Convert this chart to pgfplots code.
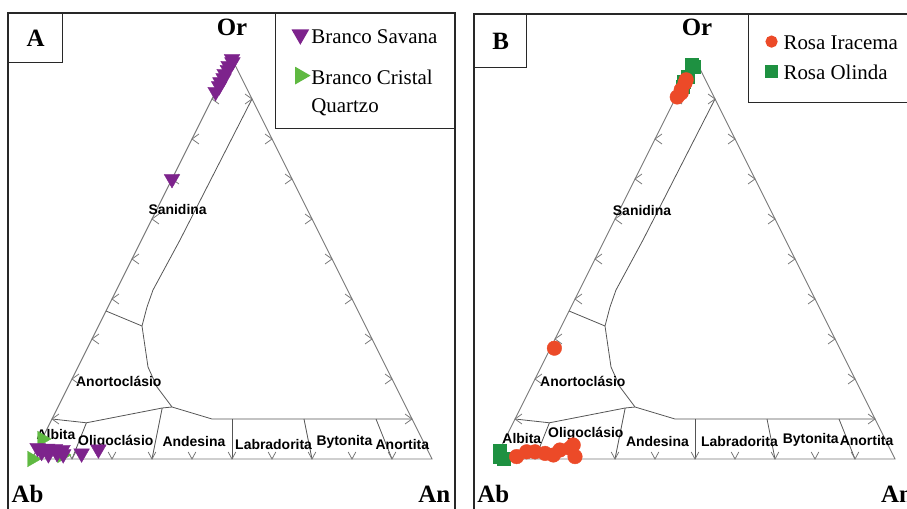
\documentclass[border=0pt]{standalone}
\usepackage{fontspec}
\setmainfont{Liberation Serif}
\newfontfamily\lsans{Liberation Sans}
\usepackage{pgfplots}
\usepackage{pgfplotstable}
\pgfplotsset{compat=1.18}

\definecolor{savana}{RGB}{125,35,140}
\definecolor{cristal}{RGB}{95,185,65}
\definecolor{iracema}{RGB}{236,74,40}
\definecolor{olinda}{RGB}{30,145,65}
\definecolor{tri}{RGB}{120,120,120}
\definecolor{bnd}{RGB}{85,85,85}
\definecolor{frm}{RGB}{40,40,40}

\pgfdeclareplotmark{chevL}{%
  \pgfpathmoveto{\pgfqpoint{7bp}{5bp}}%
  \pgfpathlineto{\pgfqpoint{0bp}{0bp}}%
  \pgfpathlineto{\pgfqpoint{7bp}{-5bp}}%
  \pgfusepathqstroke}
\pgfdeclareplotmark{chevR}{%
  \pgfpathmoveto{\pgfqpoint{-7bp}{5bp}}%
  \pgfpathlineto{\pgfqpoint{0bp}{0bp}}%
  \pgfpathlineto{\pgfqpoint{-7bp}{-5bp}}%
  \pgfusepathqstroke}
\pgfdeclareplotmark{chevD}{%
  \pgfpathmoveto{\pgfqpoint{-3.8bp}{7bp}}%
  \pgfpathlineto{\pgfqpoint{0bp}{0bp}}%
  \pgfpathlineto{\pgfqpoint{3.8bp}{7bp}}%
  \pgfusepathqstroke}

% ternary data: Or and An in percent (Ab = 100 - Or - An)
\pgfplotstableread{
Or An
100 0
99.2 0.5
98.3 0
97.3 0.3
96.3 0
95.2 0.3
94.2 0
93.2 0.2
91.8 0
70 0
2.8 0
1.8 1.5
2.6 2.5
1.2 3.5
2.5 4.5
1.5 5.5
2.3 6.5
1.2 7.2
1.4 11.7
2.4 15.4
}\tSavana
\pgfplotstableread{
Or An
5 0
0 0
1 7
}\tCristal
\pgfplotstableread{
Or An
98.5 0
98 0.6
95.5 0.3
94.3 0
93 0.3
2 0.2
0.5 1
0 2.1
}\tOlinda
\pgfplotstableread{
Or An
94.8 0.4
94 0.5
92.3 0.4
91.5 0.8
90.5 0.3
27.7 1
0.6 5.1
1.8 7
1.8 9.1
1.4 11.8
1 14.1
2.25 15.1
2.7 17.4
3.5 17.8
0.6 19.7
}\tIracema

\pgfplotsset{
  tern/.style={scale only axis, axis lines=box, xtick=\empty, ytick=\empty,
    axis line style={line width=1.2bp, draw=frm}, clip=false, anchor=south west,
    legend cell align=left},
  /pgfplots/table/tx/.style={/pgfplots/table/x expr=\thisrow{An}+0.5*\thisrow{Or},
    /pgfplots/table/y expr=\thisrow{Or}},
  msav/.style={only marks, mark=triangle*, mark size=9bp, color=savana, mark options={rotate=180}},
  mcri/.style={only marks, mark=triangle*, mark size=9bp, color=cristal, mark options={rotate=-90}},
  mira/.style={only marks, mark=*, mark size=7.3bp, color=iracema},
  moli/.style={only marks, mark=square*, mark size=6.5bp, color=olinda},
}

\newcommand\diagram{%
  \addplot[tri, line width=0.9bp, forget plot] coordinates {(0,0) (100,0) (50,100) (0,0)};
  \addplot[bnd, line width=0.8bp, forget plot] coordinates {(55,90) (37,54.75) (30.25,42.25) (28.75,38) (27.5,33.25) (29,23) (31.25,18) (35,13) (45,10) (95,10)};
  \addplot[bnd, line width=0.8bp, forget plot] coordinates {(18.5,37) (27.5,33.25)};
  \addplot[bnd, line width=0.8bp, forget plot] coordinates {(5,10) (13.6,9.05) (32.55,12.75) (35,13)};
  \addplot[bnd, line width=0.8bp, forget plot] coordinates {(13.6,9.05) (10,0)};
  \addplot[bnd, line width=0.8bp, forget plot] coordinates {(32.55,12.75) (30,0)};
  \addplot[bnd, line width=0.8bp, forget plot] coordinates {(50,10) (50,0)};
  \addplot[bnd, line width=0.8bp, forget plot] coordinates {(68,10) (70,0)};
  \addplot[bnd, line width=0.8bp, forget plot] coordinates {(86,10) (90,0)};
  \addplot[tri, line width=0.8bp, only marks, mark=chevL, forget plot] coordinates {(5,10) (10,20) (15,30) (20,40) (25,50) (30,60) (35,70) (40,80) (45,90)};
  \addplot[tri, line width=0.8bp, only marks, mark=chevR, forget plot] coordinates {(95,10) (90,20) (85,30) (80,40) (75,50) (70,60) (65,70) (60,80) (55,90)};
  \addplot[tri, line width=0.8bp, only marks, mark=chevD, forget plot] coordinates {(10,0) (20,0) (30,0) (40,0) (50,0) (60,0) (70,0) (80,0) (90,0)};
}
\tikzset{reg/.style={font=\lsans\bfseries\fontsize{14}{16}\selectfont, inner sep=0pt},
  apex/.style={font=\bfseries\fontsize{25}{25}\selectfont, inner sep=0pt}}

\begin{document}
\begin{tikzpicture}
\useasboundingbox (0,0) rectangle (907bp,509bp);
\clip (0,0) rectangle (907bp,509bp);

% ---------------- Panel A ----------------
\begin{axis}[tern, at={(8bp,-11bp)}, width=447bp, height=507bp,
  xmin=-6, xmax=105.75, ymin=-15.25, ymax=111.5,
  legend style={at={(1,1)}, anchor=north east, draw=frm, line width=1.2bp, fill=white,
    font=\fontsize{21}{28}\selectfont, inner xsep=17bp, inner ysep=7bp, row sep=0bp,
    nodes={inner sep=0bp}},
  legend image code/.code={\draw[#1] plot coordinates {(0bp,0bp)};}]
\diagram
\node[reg] at (36.4,62.25) {Sanidina};
\node[reg] at (21.7,19.5) {Anortoclásio};
\node[reg] at (6,6.1) {Albita};
\node[reg] at (20.95,4.3) {Oligoclásio};
\node[reg] at (40.5,4.4) {Andesina};
\node[reg] at (60.4,3.6) {Labradorita};
\node[reg] at (78.1,4.25) {Bytonita};
\node[reg] at (92.6,3.6) {Anortita};
\node[apex] at (50,108) {Or};
\node[apex] at (-1.1,-8.75) {Ab};
\node[apex] at (100.6,-8.75) {An};
\addplot[mcri, forget plot] table[tx] {\tCristal};
\addplot[msav, forget plot] table[tx] {\tSavana};
\addlegendimage{msav}
\addlegendentry[text height=23bp, text depth=5bp]{\hspace{2bp}Branco Savana}
\addlegendimage{mcri}
\addlegendentry[text height=36bp, text depth=18bp]{\hspace{2bp}Branco Cristal}
\addlegendimage{empty legend}
\addlegendentry[text height=10bp, text depth=9bp]{\hspace{2bp}Quartzo}
\node[draw=frm, line width=1.2bp, anchor=north west, minimum width=54bp, minimum height=49bp,
  inner sep=0pt, font=\bfseries\fontsize{25}{25}\selectfont] at (rel axis cs:0,1) {A};
\end{axis}

% ---------------- Panel B ----------------
\begin{axis}[tern, at={(474bp,-11bp)}, width=444bp, height=506bp,
  xmin=-5.25, xmax=105.75, ymin=-15.25, ymax=111.25,
  legend style={at={(0.617,1)}, anchor=north west, draw=frm, line width=1.2bp, fill=white,
    font=\fontsize{21}{28}\selectfont, inner xsep=17.5bp, inner ysep=14bp, row sep=0bp,
    nodes={inner sep=0bp}},
  legend image code/.code={\draw[#1, mark size=5.5bp] plot coordinates {(0bp,0bp)};}]
\diagram
\node[reg] at (36.75,62.2) {Sanidina};
\node[reg] at (21.95,19.3) {Anortoclásio};
\node[reg] at (6.7,5.05) {Albita};
\node[reg] at (22.7,6.4) {Oligoclásio};
\node[reg] at (40.6,4.45) {Andesina};
\node[reg] at (61.1,4.3) {Labradorita};
\node[reg] at (78.95,4.7) {Bytonita};
\node[reg] at (92.9,4.7) {Anortita};
\node[apex] at (50.5,108) {Or};
\node[apex] at (-0.4,-8.75) {Ab};
\node[apex] at (100.5,-8.75) {An};
\addplot[moli, forget plot] table[tx] {\tOlinda};
\addplot[mira, forget plot] table[tx] {\tIracema};
\addlegendimage{mira}
\addlegendentry[text height=21bp, text depth=5bp]{\hspace{6.5bp}Rosa Iracema}
\addlegendimage{moli}
\addlegendentry[text height=25bp, text depth=9bp]{\hspace{6.5bp}Rosa Olinda}
\node[draw=frm, line width=1.2bp, anchor=north west, minimum width=52bp, minimum height=53bp,
  inner sep=0pt, font=\bfseries\fontsize{25}{25}\selectfont] at (rel axis cs:0,1) {B};
\end{axis}
\end{tikzpicture}
\end{document}
